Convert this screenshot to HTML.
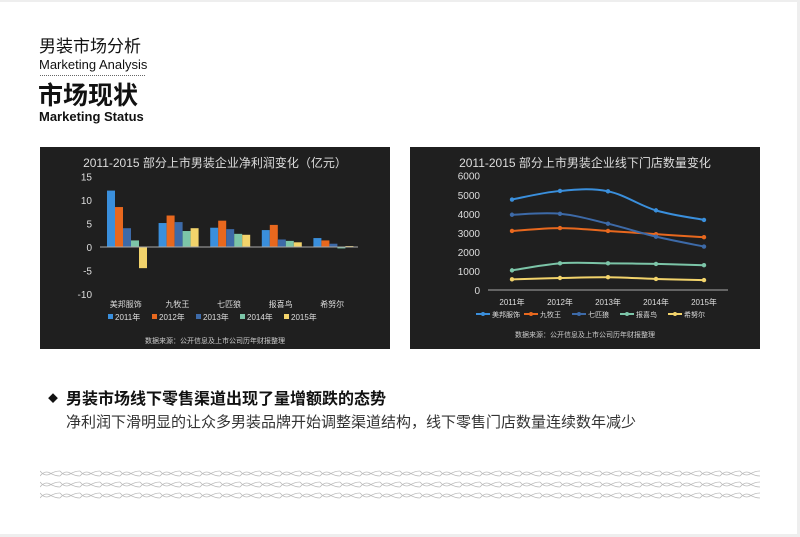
<!DOCTYPE html>
<html><head><meta charset="utf-8">
<style>
body{margin:0;background:#fff;}
#page{position:relative;width:800px;height:537px;background:#fff;overflow:hidden;font-family:"Liberation Sans","Noto Sans CJK SC",sans-serif;box-sizing:border-box;border-right:3px solid #eee;border-bottom:3px solid #eee;border-top:2px solid #eee;}
.t{position:absolute;white-space:nowrap;color:#111;line-height:1;}
.panel{position:absolute;background:#1f1f1f;}
</style></head><body>
<div id="page">
<div class="t" style="left:39px;top:36px;font-size:17px;">男装市场分析</div>
<div class="t" style="left:39px;top:56px;font-size:13px;">Marketing Analysis</div>
<div style="position:absolute;left:40px;top:73px;width:105px;border-top:1px dotted #666;"></div>
<div class="t" style="left:38px;top:82px;font-size:25px;font-weight:bold;">市场现状</div>
<div class="t" style="left:39px;top:108px;font-size:13px;font-weight:bold;">Marketing Status</div>

<svg class="panel" id="c1" style="left:40px;top:145px" width="350" height="202"></svg>
<svg class="panel" id="c2" style="left:410px;top:145px" width="350" height="202"></svg>

<div class="t" style="left:48px;top:390px;font-size:16px;font-weight:bold;"><span style="font-size:10px;position:relative;top:-2px;margin-right:8px;">◆</span>男装市场线下零售渠道出现了量增额跌的态势</div>
<div class="t" style="left:66px;top:413px;font-size:15px;color:#333;">净利润下滑明显的让众多男装品牌开始调整渠道结构，线下零售门店数量连续数年减少</div>

<svg style="position:absolute;left:40px;top:466px" width="720" height="34">
<defs><pattern id="wv" width="20" height="11" patternUnits="userSpaceOnUse">
<path d="M0 3 Q5 9 10 6 T20 3" fill="none" stroke="#bbb" stroke-width="0.8"/>
<path d="M0 8 Q5 2 10 5 T20 8" fill="none" stroke="#bbb" stroke-width="0.8"/>
</pattern></defs>
<rect width="720" height="33" fill="url(#wv)"/>
</svg>
</div>
<script>
const NS='http://www.w3.org/2000/svg';
function mk(p,tag,a,txt){const e=document.createElementNS(NS,tag);for(const k in a)e.setAttribute(k,a[k]);if(txt!==undefined)e.textContent=txt;p.appendChild(e);return e;}
const colors=['#3a8fdc','#e8681e','#3d6aa8','#7cc5a8','#f2d36b'];

// Chart 1 data
const companies=['美邦服饰','九牧王','七匹狼','报喜鸟','希努尔'];
const years=['2011年','2012年','2013年','2014年','2015年'];
const profit2011=[12,5.1,4.1,3.6,1.9];
const profit2012=[8.5,6.7,5.6,4.7,1.4];
const profit2013=[4,5.3,3.8,1.6,0.7];
const profit2014=[1.4,3.4,2.8,1.3,-0.3];
const profit2015=[-4.5,4.0,2.6,1.0,0.2];
const profitTicks=[15,10,5,0,-5,-10];

// Chart 2 data
const storeYears=['2011年','2012年','2013年','2014年','2015年'];
const storesMB=[4750,5200,5180,4180,3680];
const storesJMW=[3100,3250,3100,2930,2770];
const storesQPL=[3950,4000,3480,2800,2280];
const storesBXN=[1030,1400,1400,1370,1300];
const storesXNE=[560,630,670,580,520];
const storeTicks=[0,1000,2000,3000,4000,5000,6000];

(function(){
const s=document.getElementById('c1');
const y=v=>100-v*4.7, x0=60, bw=51.6;
const t=mk(s,'text',{x:175,y:20,fill:'#ddd','font-size':12,'text-anchor':'middle'},'2011-2015 部分上市男装企业净利润变化（亿元）');


profitTicks.forEach(v=>{const e=mk(s,'text',{x:52,y:y(v)+4,fill:'#ddd','font-size':10,'text-anchor':'end'},v);

});
const series=[profit2011,profit2012,profit2013,profit2014,profit2015];
series.forEach((arr,si)=>arr.forEach((v,ci)=>{
const r=mk(s,'rect',{x:x0+ci*bw+7+si*8,y:Math.min(y(v),y(0)),width:8,height:Math.abs(y(v)-y(0)),fill:colors[si]});

}));
const ax=mk(s,'line',{x1:x0,x2:x0+5*bw,y1:y(0),y2:y(0),stroke:'#aaa','stroke-width':1});


companies.forEach((c,i)=>{const e=mk(s,'text',{x:x0+i*bw+bw/2,y:160,fill:'#ddd','font-size':8,'text-anchor':'middle'},c);

});
years.forEach((yr,i)=>{const g=mk(s,'g',{});


const lx=68+i*44;mk(g,'rect',{x:lx,y:167,width:5,height:5,fill:colors[i]});mk(g,'text',{x:lx+7,y:173,fill:'#ddd','font-size':8},yr);});
const src=mk(s,'text',{x:175,y:196,fill:'#ccc','font-size':7,'text-anchor':'middle'},'数据来源：公开信息及上市公司历年财报整理');


})();

(function(){
const s=document.getElementById('c2');
const y=v=>143-v*0.01905, x0=78, bw=48, xc=i=>x0+bw*i+bw/2;
const t=mk(s,'text',{x:175,y:20,fill:'#ddd','font-size':12,'text-anchor':'middle'},'2011-2015 部分上市男装企业线下门店数量变化');


storeTicks.forEach(v=>{const e=mk(s,'text',{x:70,y:y(v)+4,fill:'#ddd','font-size':10,'text-anchor':'end'},v);

});
const ax=mk(s,'line',{x1:x0,x2:x0+5*bw,y1:y(0),y2:y(0),stroke:'#aaa','stroke-width':1});


storeYears.forEach((yr,i)=>{const e=mk(s,'text',{x:xc(i),y:158,fill:'#ddd','font-size':8,'text-anchor':'middle'},yr);

});
const series=[storesMB,storesJMW,storesQPL,storesBXN,storesXNE];
const names=['美邦服饰','九牧王','七匹狼','报喜鸟','希努尔'];
series.forEach((arr,si)=>{
const pts=arr.map((v,i)=>[xc(i),y(v)]);
let d='M'+pts[0][0]+' '+pts[0][1];
for(let i=0;i<pts.length-1;i++){const p0=pts[Math.max(0,i-1)],p1=pts[i],p2=pts[i+1],p3=pts[Math.min(pts.length-1,i+2)];
const k=0.18;d+=` C${p1[0]+(p2[0]-p0[0])*k} ${p1[1]+(p2[1]-p0[1])*k} ${p2[0]-(p3[0]-p1[0])*k} ${p2[1]-(p3[1]-p1[1])*k} ${p2[0]} ${p2[1]}`;}
const l=mk(s,'path',{d:d,fill:'none',stroke:colors[si],'stroke-width':2});


pts.forEach(p=>{const c=mk(s,'circle',{cx:p[0],cy:p[1],r:2.2,fill:colors[si]});

});
const g=mk(s,'g',{});


const lx=66+si*48;
mk(g,'line',{x1:lx,x2:lx+14,y1:167,y2:167,stroke:colors[si],'stroke-width':2});
mk(g,'circle',{cx:lx+7,cy:167,r:2,fill:colors[si]});
mk(g,'text',{x:lx+16,y:170,fill:'#ddd','font-size':7},names[si]);
});
const src=mk(s,'text',{x:175,y:190,fill:'#ccc','font-size':7,'text-anchor':'middle'},'数据来源：公开信息及上市公司历年财报整理');


})();
</script>
</body></html>
